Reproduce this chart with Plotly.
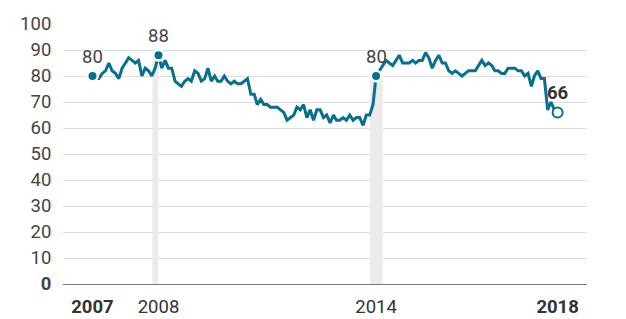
import plotly.graph_objects as go
import pandas as pd

# Monthly approval values, Jan 2007 - Oct 2018
values = [
    80, 79, 79, 81, 82, 85, 82, 81, 79, 83, 85, 87,   # 2007
    86, 85, 86, 80, 83, 82, 80, 83, 88, 83, 86, 83,   # 2008
    83, 78, 77, 76, 78, 79, 78, 82, 81, 78, 79, 83,   # 2009
    78, 80, 78, 78, 80, 78, 77, 78, 77, 77, 78, 79,   # 2010
    73, 73, 69, 71, 69, 69, 68, 68, 68, 67, 66, 63,   # 2011
    64, 65, 68, 67, 69, 64, 67, 63, 67, 67, 64, 65,   # 2012
    62, 65, 63, 63, 64, 63, 65, 63, 64, 64, 61, 65,   # 2013
    65, 69, 80, 82, 84, 86, 85, 84, 86, 88, 85, 85,   # 2014
    85, 86, 85, 86, 86, 89, 87, 83, 86, 88, 85, 85,   # 2015
    82, 81, 82, 81, 80, 81, 82, 82, 82, 84, 86, 84,   # 2016
    85, 84, 82, 82, 81, 81, 83, 83, 83, 82, 82, 80,   # 2017
    81, 76, 80, 82, 79, 79, 67, 70, 67, 66,           # 2018
]
dates = pd.date_range("2007-01-01", periods=len(values), freq="MS")

highlight_dates = ["2007-01-01", "2008-09-01", "2014-03-01"]
highlight_values = [80, 88, 80]
last_date = "2018-10-01"
last_value = 66

band_starts = ["2008-07-07", "2014-01-04"]
band_ends = ["2008-08-31", "2014-05-01"]
band_tops = [88, 80]

tick_dates = ["2007-01-01", "2008-09-01", "2014-03-01", "2018-10-01"]
tick_text = ["<b>2007</b>", "2008", "2014", "<b>2018</b>"]
y_ticks = list(range(0, 101, 10))
y_text = ["<b>0</b>"] + [str(v) for v in y_ticks[1:]]

LINE = "#07708f"
FONT = "Roboto"
FS = 18.5

fig = go.Figure()
fig.add_trace(go.Scatter(x=dates, y=values, mode="lines",
                         line=dict(color=LINE, width=3), hoverinfo="skip"))
fig.add_trace(go.Scatter(x=highlight_dates, y=highlight_values, mode="markers",
                         marker=dict(color=LINE, size=10.5, line=dict(color="white", width=2.5))))
fig.add_trace(go.Scatter(x=[last_date], y=[last_value], mode="markers",
                         marker=dict(color="white", size=10, line=dict(color=LINE, width=2))))

for s, e, t in zip(band_starts, band_ends, band_tops):
    fig.add_shape(type="rect", xref="x", yref="y", x0=s, x1=e, y0=0, y1=t,
                  fillcolor="#ebebeb", line_width=0, layer="between")

for d, v in zip(highlight_dates, highlight_values):
    fig.add_annotation(x=d, y=v, text=str(v), showarrow=False, yshift=19,
                       font=dict(family=FONT, size=FS, color="#444"))
fig.add_annotation(x=last_date, y=last_value, text=f"<b>{last_value}</b>", showarrow=False,
                   yshift=19, font=dict(family=FONT, size=FS, color="#333"))

fig.update_layout(
    width=626, height=319, margin=dict(l=63, r=39, t=24, b=35),
    paper_bgcolor="white", plot_bgcolor="white", showlegend=False,
    font=dict(family=FONT, size=FS, color="#444"),
    xaxis=dict(type="date", range=["2006-04-04", "2019-06-29"], tickvals=tick_dates,
               ticktext=tick_text, showgrid=False, zeroline=False, showline=True,
               linecolor="#777", linewidth=1.2, ticks="", ticklabelstandoff=6,
               automargin=False, tickfont=dict(size=FS, color="#333")),
    yaxis=dict(range=[0, 100], tickvals=y_ticks, ticktext=y_text, showgrid=True,
               gridcolor="#dcdcdc", gridwidth=1, zeroline=False, ticks="outside",
               ticklen=7, tickcolor="rgba(0,0,0,0)", automargin=False,
               tickfont=dict(size=FS, color="#444")),
)
fig.write_html("out.html")
